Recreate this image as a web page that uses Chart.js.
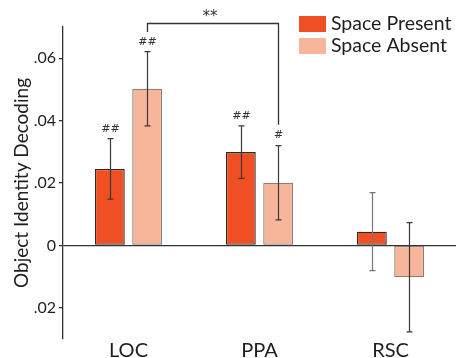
<!DOCTYPE html>
<html>
<head>
<meta charset="utf-8">
<script src="https://cdn.jsdelivr.net/npm/chart.js@4"></script>
<style>
html, body { margin: 0; padding: 0; background: #fff; }
#wrap { position: relative; width: 456px; height: 358px; }
</style>
</head>
<body>
<div id="wrap"><canvas id="myChart" width="456" height="358"></canvas></div>
<script>
// data
const regions = ['LOC', 'PPA', 'RSC'];
const presentVals = [0.0245, 0.0299, 0.0044];
const presentErr = [0.0097, 0.0084, 0.0125];
const absentVals = [0.0502, 0.0201, -0.0102];
const absentErr = [0.0119, 0.0119, 0.0175];
const presentMarks = ['##', '##', ''];
const absentMarks = ['##', '#', ''];
const yTicks = [-0.02, 0, 0.02, 0.04, 0.06];

const FONT = 'Lato, "Open Sans", sans-serif';
const INK = '#1e1e1e';

// error bars + # marks on top
const errorBars = {
    id: 'errorBars',
    afterDatasetsDraw(chart) {
        const ctx = chart.ctx;
        const y = chart.scales.y;
        chart.data.datasets.forEach((ds, di) => {
            const meta = chart.getDatasetMeta(di);
            meta.data.forEach((bar, i) => {
                const v = ds.data[i];
                const e = ds.errors[i];
                const top = y.getPixelForValue(v + e);
                const bot = y.getPixelForValue(v - e);
                const x = Math.round(bar.x) + 0.5;
                ctx.save();
                ctx.strokeStyle = ds.errColor[i];
                ctx.lineWidth = 1.2;
                ctx.beginPath();
                ctx.moveTo(x, top); ctx.lineTo(x, bot);
                ctx.moveTo(x - 3, top); ctx.lineTo(x + 3, top);
                ctx.moveTo(x - 3, bot); ctx.lineTo(x + 3, bot);
                ctx.stroke();
                if (ds.marks[i]) {
                    ctx.fillStyle = '#333';
                    ctx.font = '11px "DejaVu Sans", sans-serif';
                    ctx.textAlign = 'center';
                    ctx.textBaseline = 'middle';
                    ctx.fillText(ds.marks[i], x, top - 10);
                }
                ctx.restore();
            });
        });
    }
};

// ** bracket between LOC absent and PPA absent
const sigBracket = {
    id: 'sigBracket',
    afterDraw(chart, args, opts) {
        const ctx = chart.ctx;
        const y = chart.scales.y;
        const a = chart.getDatasetMeta(opts.from[0]).data[opts.from[1]];
        const b = chart.getDatasetMeta(opts.to[0]).data[opts.to[1]];
        const x1 = Math.round(a.x) + 0.5, x2 = Math.round(b.x) + 0.5;
        const yTop = Math.round(y.getPixelForValue(opts.top)) + 0.5;
        ctx.save();
        ctx.strokeStyle = '#333';
        ctx.lineWidth = 1.3;
        ctx.beginPath();
        ctx.moveTo(x1, y.getPixelForValue(opts.left));
        ctx.lineTo(x1, yTop);
        ctx.lineTo(x2, yTop);
        ctx.lineTo(x2, y.getPixelForValue(opts.right));
        ctx.stroke();
        ctx.fillStyle = '#333';
        ctx.font = '15px "DejaVu Sans", sans-serif';
        ctx.textAlign = 'center';
        ctx.textBaseline = 'middle';
        ctx.fillText(opts.label, (x1 + x2) / 2 - 3, yTop - 6);
        ctx.restore();
    }
};

// legend in the top right corner
const cornerLegend = {
    id: 'cornerLegend',
    afterDraw(chart) {
        const ctx = chart.ctx;
        ctx.save();
        ctx.font = '19.5px ' + FONT;
        ctx.textBaseline = 'middle';
        chart.data.datasets.forEach((ds, i) => {
            const top = 16 + i * 22;
            ctx.fillStyle = ds.backgroundColor;
            ctx.fillRect(299, top, 27, 16);
            ctx.fillStyle = INK;
            ctx.fillText(ds.label, 331, top + 8);
        });
        ctx.restore();
    }
};

const ctx_1 = document.getElementById('myChart').getContext('2d');

const myBarChart = new Chart(ctx_1, {
    type: 'bar',
    data: {
        labels: regions,
        datasets: [{
                label: 'Space Present',
                data: presentVals,
                errors: presentErr,
                marks: presentMarks,
                errColor: ['#3a3a3a', '#3a3a3a', '#777'],
                backgroundColor: '#f04e23',
                borderColor: '#2a2a2a',
                borderWidth: 1.3,
                borderSkipped: false,
            },
            {
                label: 'Space Absent',
                data: absentVals,
                errors: absentErr,
                marks: absentMarks,
                errColor: ['#3a3a3a', '#3a3a3a', '#3a3a3a'],
                backgroundColor: '#f7b599',
                borderColor: '#8a7f79',
                borderWidth: 1.3,
                borderSkipped: false,
            }
        ]
    },
    options: {
        responsive: false,
        devicePixelRatio: 1,
        animation: false,
        categoryPercentage: 0.57,
        barPercentage: 0.8,
        layout: { padding: { top: 27, left: 0, right: 0, bottom: 0 } },
        plugins: {
            legend: { display: false },
            tooltip: { enabled: false },
            sigBracket: { from: [1, 0], to: [1, 1], left: 0.0684, top: 0.0713, right: 0.0387, label: '**' }
        },
        scales: {
            x: {
                grid: { display: false, drawTicks: false },
                border: { display: false },
                ticks: { color: INK, font: { family: FONT, size: 20 }, padding: 0 },
                afterFit(scale) { scale.height = 19; }
            },
            y: {
                min: -0.03,
                max: 0.07,
                afterBuildTicks(scale) {
                    scale.ticks = yTicks.map(v => ({ value: v }));
                },
                afterFit(scale) { scale.width = 63; },
                border: { display: true, color: '#333', width: 1.3 },
                grid: {
                    drawOnChartArea: true,
                    drawTicks: true,
                    tickLength: 4,
                    tickColor: '#333',
                    lineWidth: 1.3,
                    color: (c) => (c.tick && c.tick.value === 0 ? '#333' : 'rgba(0,0,0,0)')
                },
                ticks: {
                    color: INK,
                    font: { family: FONT, size: 16 },
                    padding: 3,
                    callback: (v) => (v === 0 ? '0' : '.' + String(Math.round(Math.abs(v) * 100)).padStart(2, '0'))
                },
                title: {
                    display: true,
                    text: 'Object Identity Decoding',
                    color: INK,
                    font: { family: FONT, size: 19 },
                    padding: { top: 10, bottom: 0 }
                }
            }
        }
    },
    plugins: [errorBars, sigBracket, cornerLegend]
});
</script>
</body>
</html>
